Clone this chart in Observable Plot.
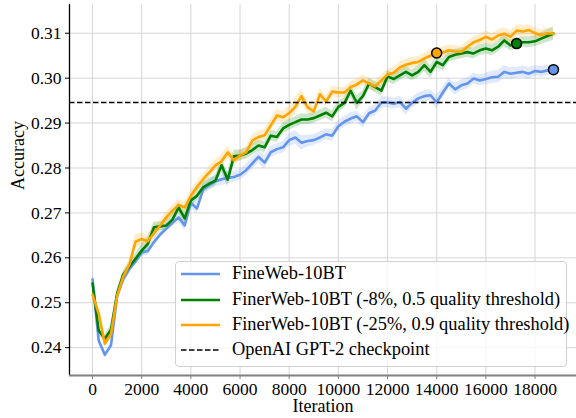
<!DOCTYPE html>
<html>
<head>
<meta charset="utf-8">
<script src="https://cdn.jsdelivr.net/npm/d3@7"></script>
<script src="https://cdn.jsdelivr.net/npm/@observablehq/plot@0.6"></script>
<style>
  html, body { margin: 0; padding: 0; background: #fff; }
  #wrap { position: relative; width: 576px; height: 418px; font-family: "Liberation Serif", "Times New Roman", serif; }
  #wrap svg text { font-family: "Liberation Serif", "Times New Roman", serif; fill: #000; }
  #wrap svg g[aria-label$="tick label"] text { font-size: 17.5px !important; }
  #wrap svg g[aria-label="text"] text { font-size: 18px !important; }
  #legend { position: absolute; left: 175px; top: 261px; width: 392px; height: 106px;
    border: 1px solid #d0d0d0; border-radius: 4px; background: rgba(255,255,255,0.8); box-sizing: border-box; }
  .row { position: absolute; left: 0; height: 20px; display: flex; align-items: center; font-size: 18.4px; color: #000; white-space: nowrap; }
  .swatch { position: absolute; left: 5px; width: 39px; }
  .lab { position: absolute; left: 56px; top: -1px; }
</style>
</head>
<body>
<div id="wrap"></div>
<script>
const iterations = d3.range(0, 18751, 250);

const fineweb = [0.2552,0.2416,0.2384,0.2405,0.2515,0.2552,0.2575,0.2592,0.2612,0.2615,
0.2635,0.2652,0.2665,0.2678,0.2690,0.2672,0.2722,0.2710,0.2752,0.2762,
0.2770,0.2775,0.2778,0.2780,0.2785,0.2795,0.2810,0.2825,0.2812,0.2835,
0.2842,0.2846,0.2862,0.2868,0.2856,0.2860,0.2862,0.2868,0.2875,0.2872,
0.2893,0.2903,0.2910,0.2915,0.2902,0.2922,0.2928,0.2946,0.2946,0.2943,
0.2947,0.2932,0.2945,0.2955,0.2960,0.2962,0.2946,0.2968,0.2988,0.2975,
0.2984,0.2988,0.2999,0.2995,0.2998,0.3002,0.3003,0.3014,0.3010,0.3012,
0.3014,0.3010,0.3016,0.3014,0.3017,0.3019];

const finer8 = [0.2543,0.2438,0.2420,0.2440,0.2520,0.2563,0.2580,0.2598,0.2616,0.2631,
0.2668,0.2670,0.2672,0.2685,0.2712,0.2688,0.2728,0.2738,0.2757,0.2765,
0.2772,0.2806,0.2774,0.2826,0.2828,0.2832,0.2840,0.2850,0.2846,0.2872,
0.2869,0.2888,0.2896,0.2902,0.2908,0.2908,0.2911,0.2917,0.2923,0.2915,
0.2936,0.2945,0.2972,0.2945,0.2960,0.2988,0.2980,0.2972,0.3004,0.2998,
0.3006,0.3014,0.3006,0.3014,0.3029,0.3014,0.3036,0.3029,0.3047,0.3052,
0.3055,0.3058,0.3055,0.3062,0.3066,0.3062,0.3070,0.3084,0.3073,0.3077,
0.3080,0.3080,0.3082,0.3088,0.3094,0.3099];

const finer25 = [0.2518,0.2476,0.2409,0.2430,0.2515,0.2558,0.2585,0.2636,0.2642,0.2637,
0.2655,0.2672,0.2690,0.2705,0.2718,0.2712,0.2738,0.2758,0.2775,0.2790,
0.2806,0.2815,0.2835,0.2817,0.2828,0.2835,0.2861,0.2869,0.2873,0.2895,
0.2917,0.2913,0.2922,0.2936,0.2960,0.2935,0.2926,0.2964,0.2948,0.2970,
0.2968,0.2968,0.2980,0.2986,0.2995,0.2988,0.2982,0.2995,0.3008,0.3012,
0.3024,0.3030,0.3034,0.3036,0.3044,0.3050,0.3056,0.3057,0.3062,0.3060,
0.3059,0.3070,0.3080,0.3085,0.3092,0.3086,0.3095,0.3099,0.3092,0.3106,
0.3104,0.3107,0.3100,0.3096,0.3100,0.3099];

// half-width of the shaded band
const finewebSpread = [0.0022,0.0008,0.0006,0.0006,0.0008,0.0008,0.0007,0.0007,0.0008,0.0010,
0.0008,0.0008,0.0008,0.0009,0.0010,0.0012,0.0010,0.0012,0.0012,0.0012,
0.0012,0.0014,0.0013,0.0012,0.0012,0.0013,0.0014,0.0014,0.0015,0.0013,
0.0012,0.0013,0.0014,0.0015,0.0016,0.0013,0.0012,0.0012,0.0012,0.0013,
0.0012,0.0012,0.0013,0.0012,0.0013,0.0012,0.0012,0.0013,0.0012,0.0012,
0.0013,0.0014,0.0012,0.0012,0.0012,0.0012,0.0015,0.0013,0.0012,0.0013,
0.0012,0.0012,0.0012,0.0012,0.0013,0.0014,0.0014,0.0014,0.0013,0.0012,
0.0013,0.0013,0.0012,0.0012,0.0012,0.0010];

const finer8Spread = [0.0012,0.0010,0.0008,0.0010,0.0010,0.0009,0.0010,0.0012,0.0014,0.0016,
0.0012,0.0010,0.0012,0.0012,0.0012,0.0016,0.0012,0.0012,0.0012,0.0012,
0.0012,0.0014,0.0016,0.0014,0.0012,0.0012,0.0012,0.0012,0.0012,0.0012,
0.0012,0.0012,0.0012,0.0012,0.0012,0.0012,0.0012,0.0012,0.0012,0.0012,
0.0012,0.0012,0.0014,0.0016,0.0012,0.0012,0.0012,0.0012,0.0013,0.0012,
0.0012,0.0012,0.0012,0.0013,0.0014,0.0014,0.0014,0.0013,0.0012,0.0012,
0.0012,0.0012,0.0012,0.0012,0.0012,0.0012,0.0012,0.0014,0.0012,0.0012,
0.0012,0.0012,0.0012,0.0013,0.0014,0.0015];

const finer25Spread = [0.0012,0.0012,0.0010,0.0010,0.0010,0.0010,0.0012,0.0016,0.0014,0.0012,
0.0012,0.0012,0.0012,0.0012,0.0012,0.0012,0.0012,0.0012,0.0012,0.0012,
0.0013,0.0014,0.0014,0.0012,0.0012,0.0012,0.0013,0.0012,0.0012,0.0014,
0.0014,0.0012,0.0016,0.0018,0.0016,0.0012,0.0012,0.0013,0.0012,0.0012,
0.0012,0.0012,0.0012,0.0012,0.0012,0.0012,0.0012,0.0012,0.0012,0.0012,
0.0012,0.0012,0.0012,0.0012,0.0012,0.0012,0.0012,0.0012,0.0012,0.0012,
0.0012,0.0012,0.0012,0.0012,0.0013,0.0013,0.0013,0.0013,0.0013,0.0013,
0.0013,0.0012,0.0012,0.0012,0.0012,0.0012];

const seriesNames = ["FineWeb-10BT", "FinerWeb-10BT (-8%, 0.5 quality threshold)", "FinerWeb-10BT (-25%, 0.9 quality threshold)"];
const seriesColors = ["#6495ED", "#008000", "#FFA500"];
const seriesValues = [fineweb, finer8, finer25];
const seriesSpreads = [finewebSpread, finer8Spread, finer25Spread];
const markerIterations = [18750, 17250, 14000];

const gpt2Accuracy = 0.2946;
const gpt2Label = "OpenAI GPT-2 checkpoint";

const xTicks = [0, 2000, 4000, 6000, 8000, 10000, 12000, 14000, 16000, 18000];
const yTicks = [0.24, 0.25, 0.26, 0.27, 0.28, 0.29, 0.30, 0.31];
const xDomain = [-937, 19687];
const yDomain = [0.2338, 0.3164];

const rows = [];
seriesNames.forEach((name, s) => {
  iterations.forEach((it, i) => {
    rows.push({series: name, s, it, v: seriesValues[s][i], lo: seriesValues[s][i] - seriesSpreads[s][i], hi: seriesValues[s][i] + seriesSpreads[s][i]});
  });
});
const markers = markerIterations.map((it, s) => {
  const i = iterations.indexOf(it);
  return {series: seriesNames[s], s, it, v: seriesValues[s][i]};
});

const font = "Liberation Serif, Times New Roman, serif";
const marks = [
  Plot.gridX(xTicks, {stroke: "#d6d6d6", strokeOpacity: 1, strokeWidth: 1}),
  Plot.gridY(yTicks, {stroke: "#d6d6d6", strokeOpacity: 1, strokeWidth: 1}),
];
seriesNames.forEach((name, s) => {
  const d = rows.filter(r => r.s === s);
  marks.push(Plot.areaY(d, {x: "it", y1: "lo", y2: "hi", fill: seriesColors[s], fillOpacity: 0.2, curve: "linear"}));
});
seriesNames.forEach((name, s) => {
  const d = rows.filter(r => r.s === s);
  marks.push(Plot.lineY(d, {x: "it", y: "v", stroke: seriesColors[s], strokeWidth: 2.6, curve: "linear"}));
});
marks.push(
  Plot.ruleY([gpt2Accuracy], {stroke: "#000", strokeWidth: 1.5, strokeDasharray: "5.5,2.5"}),
  Plot.dot(markers, {x: "it", y: "v", r: 5, fill: d => seriesColors[d.s], stroke: "#000", strokeWidth: 1.5}),
  Plot.ruleX([xDomain[0]], {stroke: "#000", strokeWidth: 1.3}),
  Plot.ruleY([yDomain[0]], {stroke: "#808080", strokeWidth: 1.8}),
  Plot.axisX({ticks: xTicks, tickFormat: d => String(d), tickSize: 4, tickPadding: 3, stroke: "#808080", label: null}),
  Plot.axisY({ticks: yTicks, tickFormat: d3.format(".2f"), tickSize: 4, tickPadding: 4, label: null}),
  Plot.text(["Accuracy"], {frameAnchor: "left", dx: -51, rotate: -90, fontSize: 18}),
  Plot.text(["Iteration"], {frameAnchor: "bottom", dy: 36, fontSize: 18})
);

const chart = Plot.plot({
  width: 576, height: 418,
  marginLeft: 69, marginRight: 0, marginTop: 4, marginBottom: 43,
  style: {fontFamily: font, fontSize: "17.5px", color: "#000", background: "#fff"},
  x: {domain: xDomain},
  y: {domain: yDomain},
  marks
});
const wrap = document.getElementById("wrap");
wrap.appendChild(chart);

// legend
const legend = document.createElement("div");
legend.id = "legend";
const legendItems = seriesNames.map((n, s) => ({label: n, color: seriesColors[s], dash: false}))
  .concat([{label: gpt2Label, color: "#000", dash: true}]);
const rowTops = [2, 28, 53, 78];
legendItems.forEach((item, k) => {
  const row = document.createElement("div");
  row.className = "row";
  row.style.top = rowTops[k] + "px";
  const sw = document.createElementNS("http://www.w3.org/2000/svg", "svg");
  sw.setAttribute("class", "swatch");
  sw.setAttribute("width", "39"); sw.setAttribute("height", "20");
  const ln = document.createElementNS("http://www.w3.org/2000/svg", "line");
  ln.setAttribute("x1", "0"); ln.setAttribute("x2", "39"); ln.setAttribute("y1", "10"); ln.setAttribute("y2", "10");
  ln.setAttribute("stroke", item.color);
  ln.setAttribute("stroke-width", item.dash ? "1.5" : "2.6");
  if (item.dash) ln.setAttribute("stroke-dasharray", "5.5,2.5");
  sw.appendChild(ln);
  row.appendChild(sw);
  const lab = document.createElement("span");
  lab.className = "lab";
  lab.textContent = item.label;
  row.appendChild(lab);
  legend.appendChild(row);
});
wrap.appendChild(legend);
</script>
</body>
</html>
